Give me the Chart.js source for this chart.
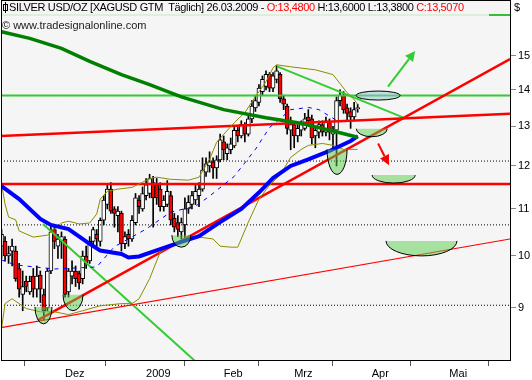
<!DOCTYPE html>
<html lang="de">
<head>
<meta charset="UTF-8">
<title>Silver USD/OZ Täglich</title>
<script src="https://cdn.jsdelivr.net/npm/chart.js"></script>
<style>
    body {
        margin: 0;
        background: #fff;
        font-family: "Liberation Sans", Arial, sans-serif;
    }
    .wrap {
        position: relative;
        width: 532px;
        height: 380px;
    }
    .header {
        position: absolute;
        left: 9px;
        top: 1px;
        font-size: 11px;
        letter-spacing: -0.36px;
        white-space: pre;
        color: #000;
    }
    .red { color: #f00; }
    .icon {
        position: absolute;
        left: 3px;
        top: 4px;
        width: 3px;
        height: 5px;
        border: 1px solid #000;
    }
    .icon-wick {
        position: absolute;
        left: 5px;
        top: 2px;
        width: 1px;
        height: 11px;
        background: #000;
    }
    .bar-light {
        position: absolute;
        left: 2px;
        top: 14px;
        width: 487px;
        height: 2px;
        background: #dcefdc;
    }
    .bar-green {
        position: absolute;
        left: 489px;
        top: 14px;
        width: 21px;
        height: 2px;
        background: #33c033;
    }
    .dollar {
        position: absolute;
        left: 514px;
        top: 1px;
        font-size: 11px;
    }
    .mark {
        position: absolute;
        left: 2px;
        top: 19px;
        font-size: 11px;
        color: #222;
    }
</style>
</head>
<body>
<div class="wrap">
    <canvas id="silverChart" width="532" height="380"></canvas>
    <div class="icon-wick"></div>
    <div class="icon"></div>
    <div class="header">SILVER USD/OZ [XAGUSD GTM  Täglich] 26.03.2009 - <span class="red">O:13,4800</span> H:13,6000 L:13,3800 <span class="red">C:13,5070</span></div>
    <div class="bar-light"></div>
    <div class="bar-green"></div>
    <div class="dollar">$</div>
    <div class="mark">© www.tradesignalonline.com</div>
</div>

<script>
    // bar index: 01.12.2008 = 0, one step per weekday
    const firstBar = -18;
    const opens  = [10.20,10.30,10.00,10.10,10.10, 9.75, 9.25, 9.50, 9.30, 9.60, 9.35, 9.62, 9.25, 9.00, 9.70,10.55,10.20,10.30,
                    10.35, 9.30, 9.60, 9.70, 9.65, 9.55,10.00, 9.90,10.30,10.45,10.30,10.75,11.10,11.45,11.00,10.85,10.90,10.25,10.45,10.35,10.70,11.20,11.00,
                    11.30,11.35,11.60,11.55,11.45,11.05,11.10,11.30,10.80,10.70,10.50,10.65,11.00,11.10,11.20,11.30,11.45,11.85,12.00,12.10,11.95,12.15,
                    12.60,12.30,12.40,12.50,12.90,12.75,13.05,12.80,13.20,13.50,13.65,13.95,14.10,14.45,14.05,14.30,14.45,13.75,13.55,12.90,
                    13.05,12.75,12.90,12.95,13.25,13.20,12.75,12.85,13.05,12.85,13.10,12.80,12.90,13.70,13.85,13.50,13.40,13.25,13.48];
    const highs  = [10.55,10.40,10.20,10.35,10.20, 9.85, 9.70, 9.60, 9.60, 9.75, 9.80, 9.70, 9.35, 9.75,10.65,10.60,10.45,10.50,
                    10.40, 9.75, 9.90, 9.80, 9.70,10.10,10.20,10.40,10.60,10.55,10.80,11.30,11.55,11.60,11.05,11.05,10.95,10.50,10.55,10.85,11.35,11.30,11.50,
                    11.70,11.80,11.75,11.70,11.60,11.30,11.65,11.40,10.90,10.85,10.80,11.25,11.30,11.40,11.55,11.60,12.20,12.20,12.35,12.20,12.25,12.80,
                    12.75,12.55,12.70,13.00,13.00,13.15,13.10,13.30,13.70,13.85,14.15,14.40,14.55,14.50,14.50,14.70,14.50,13.85,13.60,13.25,
                    13.10,13.05,13.15,13.35,13.45,13.30,13.00,13.15,13.15,13.25,13.20,13.00,13.80,14.00,13.95,13.60,13.50,13.65,13.60];
    const lows   = [ 9.95, 9.90, 9.85, 9.80, 9.50, 9.20, 8.95, 9.30, 9.25, 9.20, 9.20, 9.10, 8.78, 8.95, 9.65,10.15, 9.95, 9.95,
                     9.20, 9.20, 9.45, 9.40, 9.35, 9.45, 9.75, 9.85,10.20,10.20,10.20,10.65,11.00,10.90,10.60,10.50,10.10,10.15,10.20,10.30,10.65,10.90,10.95,
                    11.20,11.25,10.60,11.10,10.95,10.95,11.05,10.65,10.50,10.40,10.35,10.35,10.90,11.00,11.10,11.05,11.40,11.75,11.85,11.70,11.70,12.10,
                    12.15,12.15,12.30,12.45,12.60,12.70,12.60,12.75,13.10,13.40,13.55,13.85,14.00,13.95,13.95,14.20,13.65,13.45,12.80,12.40,
                    12.45,12.60,12.75,12.90,13.05,12.55,12.45,12.70,12.75,12.75,12.65,12.40,12.00,13.55,13.35,13.15,12.95,13.15,13.38];
    const closes = [10.45,10.00,10.05,10.20, 9.55, 9.35, 9.40, 9.40, 9.50, 9.35, 9.60, 9.35, 8.95, 9.70,10.50,10.30,10.35,10.40,
                     9.25, 9.70, 9.70, 9.55, 9.47,10.00, 9.85,10.30,10.55,10.35,10.75,11.20,11.45,10.95,10.90,10.95,10.25,10.40,10.35,10.75,11.25,11.05,11.35,
                    11.55,11.70,11.25,11.25,11.05,11.20,11.40,10.75,10.60,10.55,10.70,11.00,11.15,11.30,11.40,11.45,11.90,12.05,12.10,11.95,12.15,12.65,
                    12.40,12.45,12.55,12.90,12.75,13.05,12.80,13.20,13.55,13.70,14.05,14.30,14.45,14.05,14.40,14.55,13.75,13.60,12.95,13.05,
                    12.75,12.95,13.05,13.20,13.15,12.70,12.90,13.05,12.85,13.15,12.85,12.90,13.70,13.85,13.45,13.35,13.25,13.45,13.507];

    // indicator lines as [bar index, price]
    const sma200 = [[-18,15.75],[-10,15.54],[-1,15.23],[7,14.83],[16,14.44],[24,14.15],[33,13.80],[45,13.45],[57,13.23],[66,13.10],[76,12.88],[83,12.72]];
    const sma50 = [[-18,11.52],[-13,11.22],[-7,10.78],[-4,10.65],[1,10.56],[7,10.25],[10,10.11],[16,10.04],[18,9.97],[21,9.99],[27,10.14],[33,10.29],
                   [38,10.41],[44,10.71],[50,11.00],[55,11.37],[59,11.71],[64,12.00],[69,12.16],[75,12.37],[81,12.62],[83,12.75]];
    const smaShifted = [[-18,9.92],[-14,9.82],[-3,9.74],[9,9.78],[14,10.19],[23,10.56],[30,10.93],[37,11.06],[41,11.29],[48,11.75],[54,12.41],
                        [58,12.97],[64,13.45],[69,13.51],[72,13.45],[77,13.16]];
    const bandUpper = [[-18,11.57],[-17,11.11],[-16,10.82],[-14,10.76],[-13,10.52],[-9,10.39],[-5,10.43],[-1,10.69],[1,10.73],[4,10.67],[7,10.69],
                       [9,10.89],[10,11.22],[12,11.40],[15,11.45],[19,11.49],[22,11.61],[24,11.70],[26,11.73],[30,11.68],[35,11.66],[38,11.73],
                       [41,12.16],[43,12.59],[48,13.10],[51,13.37],[54,13.81],[57,14.23],[59,14.64],[60,14.73],[64,14.67],[71,14.58],[76,14.44],
                       [78,14.18],[80,13.92],[82,13.73],[83,13.59]];
    const bandLower = [[-18,8.63],[-17,9.08],[-15,9.17],[-11,8.99],[-7,8.93],[-3,8.93],[1,8.88],[5,8.95],[10,9.04],[16,9.08],[19,9.08],[21,9.17],
                       [24,9.55],[27,10.08],[30,10.20],[33,10.31],[35,10.41],[38,10.39],[42,10.35],[44,10.20],[47,10.18],[49,10.18],[52,10.71],
                       [55,11.22],[58,11.54],[61,11.78],[64,12.21],[67,12.41],[69,12.51],[73,12.56],[76,12.51],[79,12.41],[83,12.41]];

    // trend lines and levels
    const xMin = -18.15;
    const xMax = 126.2;
    const redUpper = [[xMin,12.75],[xMax,13.34]];
    const redFlat = [[xMin,11.57],[xMax,11.57]];
    const redRising = [[-7.66,8.78],[xMax,14.90]];
    const redThin = [[xMin,8.65],[xMax,10.35]];
    const greenFlat = [[xMin,13.84],[xMax,13.84]];
    const greenFromTop = [[60.13,14.68],[95.87,13.24]];
    const greenFalling = [[-6.24,10.67],[38.29,8.01]];
    const dottedLevels = [13.84, 12.12, 10.65, 9.05];

    // axes
    const yMin = 8.1253;
    const yMax = 16.795;
    const priceTicks = [9, 10, 11, 12, 13, 14, 15];
    const monthStarts = [0, 23, 45, 65, 87, 109];
    const monthLabels = ['Dez', '2009', 'Feb', 'Mrz', 'Apr', 'Mai'];

    // markers: [bar index, price at top edge, rx px, ry px]
    const lowMarks = [[-6.1,9.02,8.5,17],[2.27,9.245,10,16],[33.0,10.43,9.5,12],[77.15,12.41,10,25],
                      [87.0,12.94,15.5,8],[93.2,11.78,21.5,8],[101.1,10.31,35.5,15]];
    const ovalMark = [88.8, 13.84, 22, 4.5];
    const upArrow = [[91.6,14.09],[99.3,15.15]];
    const downArrow = [[88.8,12.56],[91.9,12.02]];

    const pts = arr => arr.map(p => ({x: p[0], y: p[1]}));
    const bars = opens.map((o, k) => k + firstBar);
    const bodies = bars.map((x, k) => ({x: x, y: [opens[k], closes[k]]}));
    const wicks = bars.map((x, k) => ({x: x, y: [lows[k], highs[k]]}));
    const bodyColors = bars.map((x, k) => closes[k] < opens[k] ? '#ff0000' : '#ffffff');

    function lineSet(data, color, width, dash) {
        return {
            type: 'line',
            data: pts(data),
            borderColor: color,
            borderWidth: width,
            borderDash: dash || [],
            pointRadius: 0,
            fill: false,
            tension: 0,
            order: 1
        };
    }

    const levelSets = dottedLevels.map(v => lineSet([[xMin, v], [xMax, v]], '#000', 1, [1, 2]));

    // plot background, frame and drawn markers
    const framePlugin = {
        id: 'framePlugin',
        beforeDraw(chart) {
            const {ctx, chartArea: a} = chart;
            ctx.save();
            ctx.fillStyle = '#f5f5f5';
            ctx.fillRect(a.left, a.top, a.right - a.left, a.bottom - a.top);
            ctx.restore();
        },
        afterDatasetsDraw(chart) {
            const {ctx, chartArea: a} = chart;
            const xs = chart.scales.x, ys = chart.scales.y;
            ctx.save();
            ctx.beginPath();
            ctx.rect(a.left, a.top, a.right - a.left, a.bottom - a.top);
            ctx.clip();

            lowMarks.forEach(m => {
                const cx = xs.getPixelForValue(m[0]);
                const cy = ys.getPixelForValue(m[1]);
                ctx.beginPath();
                ctx.ellipse(cx, cy, m[2], m[3], 0, 0, Math.PI);
                ctx.fillStyle = 'rgba(90, 205, 75, 0.5)';
                ctx.fill();
                ctx.strokeStyle = '#000';
                ctx.lineWidth = 1;
                ctx.stroke();
            });

            ctx.beginPath();
            ctx.ellipse(xs.getPixelForValue(ovalMark[0]), ys.getPixelForValue(ovalMark[1]), ovalMark[2], ovalMark[3], 0, 0, Math.PI * 2);
            ctx.fillStyle = 'rgba(150, 195, 215, 0.5)';
            ctx.fill();
            ctx.strokeStyle = '#000';
            ctx.stroke();

            drawArrow(ctx, xs, ys, upArrow, '#33cc33');
            drawArrow(ctx, xs, ys, downArrow, '#ff0000');
            ctx.restore();
        },
        afterDraw(chart) {
            const {ctx, chartArea: a} = chart;
            ctx.save();
            ctx.strokeStyle = '#000';
            ctx.lineWidth = 1;
            ctx.strokeRect(a.left + 0.5, a.top + 0.5, a.right - a.left, a.bottom - a.top);
            ctx.restore();
        }
    };

    function drawArrow(ctx, xs, ys, arrow, color) {
        const x1 = xs.getPixelForValue(arrow[0][0]), y1 = ys.getPixelForValue(arrow[0][1]);
        const x2 = xs.getPixelForValue(arrow[1][0]), y2 = ys.getPixelForValue(arrow[1][1]);
        const ang = Math.atan2(y2 - y1, x2 - x1);
        const len = 10, half = 5;
        const bx = x2 - len * Math.cos(ang), by = y2 - len * Math.sin(ang);
        ctx.strokeStyle = color;
        ctx.fillStyle = color;
        ctx.lineWidth = 2;
        ctx.beginPath();
        ctx.moveTo(x1, y1);
        ctx.lineTo(bx, by);
        ctx.stroke();
        ctx.beginPath();
        ctx.moveTo(x2, y2);
        ctx.lineTo(bx + half * Math.sin(ang), by - half * Math.cos(ang));
        ctx.lineTo(bx - half * Math.sin(ang), by + half * Math.cos(ang));
        ctx.closePath();
        ctx.fill();
    }

    const ctxSilver = document.getElementById('silverChart').getContext('2d');
    const silverChart = new Chart(ctxSilver, {
        type: 'bar',
        data: {
            datasets: [
                lineSet(sma200, '#008000', 3.5),
                lineSet(sma50, '#0000ff', 4),
                lineSet(smaShifted, '#0000ff', 1, [4, 5]),
                lineSet(bandUpper, '#8c8c00', 1),
                lineSet(bandLower, '#8c8c00', 1),
                lineSet(redUpper, '#ff0000', 2.5),
                lineSet(redFlat, '#ff0000', 2.5),
                lineSet(redRising, '#ff0000', 2.5),
                lineSet(redThin, '#ff0000', 1.2),
                lineSet(greenFlat, '#33cc33', 2),
                lineSet(greenFromTop, '#33cc33', 2),
                lineSet(greenFalling, '#33cc33', 2),
                ...levelSets,
                {
                    label: 'Body',
                    data: bodies,
                    backgroundColor: bodyColors,
                    borderColor: '#000',
                    borderWidth: 1,
                    borderSkipped: false,
                    barThickness: 4,
                    grouped: false,
                    order: 10
                },
                {
                    label: 'Wick',
                    data: wicks,
                    backgroundColor: '#000',
                    borderWidth: 0,
                    barThickness: 1,
                    grouped: false,
                    order: 11
                }
            ]
        },
        options: {
            responsive: false,
            animation: false,
            layout: { padding: { left: 1, top: 0, right: 0, bottom: 0 } },
            plugins: {
                legend: { display: false },
                tooltip: { enabled: false }
            },
            scales: {
                x: {
                    type: 'linear',
                    min: xMin,
                    max: xMax,
                    offset: false,
                    border: { display: false },
                    grid: { drawOnChartArea: false, tickLength: 6, tickColor: '#555' },
                    ticks: {
                        align: 'start',
                        padding: 1,
                        maxRotation: 0,
                        autoSkip: false,
                        color: '#000',
                        font: { family: 'Liberation Sans', size: 11 },
                        callback: (v, i) => monthLabels[i]
                    },
                    afterBuildTicks: s => { s.ticks = monthStarts.map(v => ({value: v})); },
                    afterFit: s => {
                        s.height = 20;
                        s.paddingLeft = 0;
                        s.paddingRight = 0;
                    }
                },
                y: {
                    type: 'logarithmic',
                    position: 'right',
                    min: yMin,
                    max: yMax,
                    border: { display: false },
                    grid: { drawOnChartArea: false, tickLength: 6, tickColor: '#888' },
                    ticks: {
                        padding: 2,
                        color: '#000',
                        font: { family: 'Liberation Sans', size: 11 },
                        callback: v => String(v)
                    },
                    afterBuildTicks: s => { s.ticks = priceTicks.map(v => ({value: v})); },
                    afterFit: s => {
                        s.width = 22;
                        s.paddingTop = 0;
                        s.paddingBottom = 0;
                    }
                }
            }
        },
        plugins: [framePlugin]
    });
</script>
</body>
</html>
